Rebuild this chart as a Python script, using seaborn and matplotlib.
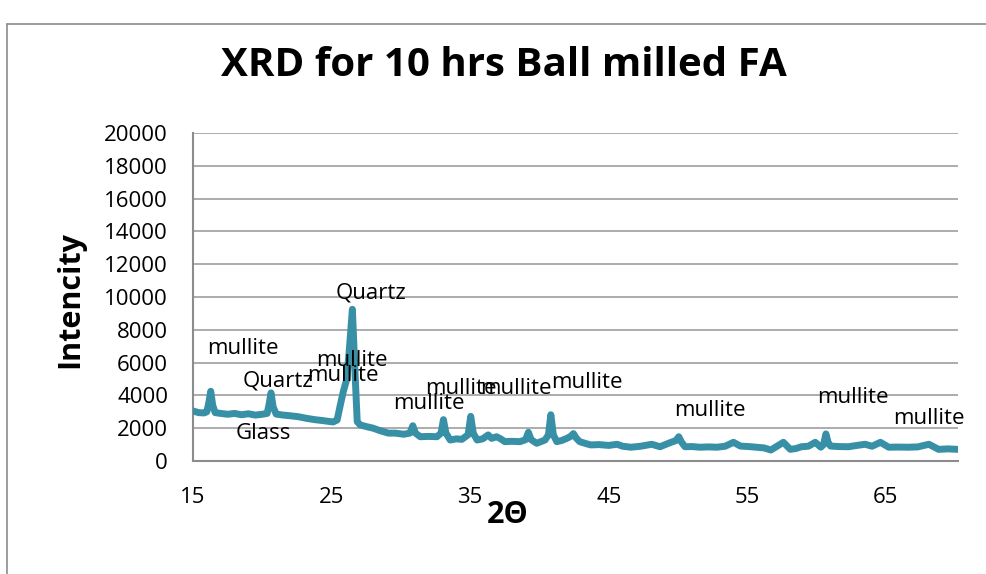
import matplotlib
matplotlib.use("Agg")
import matplotlib.pyplot as plt
import seaborn as sns
import pandas as pd
from matplotlib.lines import Line2D

# ---- data ----
two_theta = [15.0, 15.4, 15.8, 16.0, 16.15, 16.28, 16.42, 16.6, 17.0, 17.5, 18.0, 18.5, 19.0, 19.5,
             20.0, 20.35, 20.5, 20.63, 20.78, 21.0, 21.5, 22.0, 22.6, 23.2, 23.8, 24.4, 25.1,
             25.4, 25.6, 25.85, 26.1, 26.3, 26.5, 26.7, 26.85, 27.06, 27.5, 28.0, 28.5, 29.1,
             29.6, 30.2, 30.65, 30.86, 31.05, 31.4, 32.0, 32.6, 32.9, 33.07, 33.25, 33.56, 34.0,
             34.4, 34.85, 35.04, 35.22, 35.5, 35.9, 36.3, 36.55, 36.9, 37.2, 37.5, 38.0, 38.6,
             39.0, 39.2, 39.4, 39.8, 40.4, 40.65, 40.82, 41.0, 41.25, 41.6, 41.97, 42.25, 42.45,
             42.65, 42.9, 43.4, 43.7, 44.3, 45.0, 45.6, 46.0, 46.6, 47.3, 48.1, 48.7, 49.4, 49.85,
             50.05, 50.25, 50.5, 51.0, 51.6, 52.2, 52.8, 53.4, 54.0, 54.5, 55.1, 55.7, 56.2, 56.7,
             57.3, 57.6, 58.1, 58.5, 58.9, 59.4, 59.9, 60.3, 60.5, 60.67, 60.82, 61.0, 61.6, 62.3,
             62.9, 63.5, 64.0, 64.6, 65.2, 65.9, 66.6, 67.3, 68.1, 68.8, 69.5, 70.2]
intensity = [3050, 2950, 2930, 3000, 3600, 4250, 3400, 2950, 2900, 2850, 2900, 2820, 2880, 2800,
             2850, 2900, 3500, 4150, 3300, 2860, 2800, 2760, 2700, 2600, 2520, 2460, 2380,
             2500, 3300, 4250, 5000, 7000, 9250, 5200, 2400, 2200, 2100, 2000, 1850, 1700,
             1700, 1630, 1700, 2150, 1700, 1480, 1500, 1480, 1700, 2520, 1700, 1280, 1350,
             1320, 1600, 2720, 1700, 1280, 1350, 1590, 1380, 1480, 1350, 1180, 1200, 1180,
             1300, 1750, 1300, 1080, 1280, 1600, 2820, 1600, 1180, 1250, 1380, 1500, 1670,
             1400, 1180, 1050, 980, 1000, 950, 1020, 900, 840, 900, 1020, 870, 1110, 1250,
             1480, 1150, 870, 880, 840, 860, 840, 900, 1140, 910, 880, 840, 800, 670,
             980, 1140, 710, 760, 870, 900, 1140, 840, 1000, 1650, 1150, 910, 880, 870,
             950, 1020, 900, 1140, 840, 850, 840, 860, 1020, 710, 740, 710]

labels = ["mullite", "Quartz", "mullite", "mullite", "Glass", "Quartz", "mullite", "mullite",
          "mullite", "mullite", "mullite", "mullite", "mullite"]
label_x = [18.6, 21.1, 26.5, 25.8, 20.05, 27.85, 32.0, 34.35, 38.3, 43.4, 52.3, 62.6, 68.1]
label_y = [6890, 4880, 6100, 5240, 1650, 10240, 3480, 4450, 4450, 4760, 3050, 3900, 2620]

x_ticks = [15, 25, 35, 45, 55, 65]
y_ticks = [0, 2000, 4000, 6000, 8000, 10000, 12000, 14000, 16000, 18000, 20000]

title = "XRD for 10 hrs Ball milled FA"
x_label = "2Θ"
y_label = "Intencity"

# ---- plot ----
sns.set_theme(style="white")
plt.rcParams["font.family"] = ["Open Sans", "DejaVu Sans"]

W, H = 987, 574
fig = plt.figure(figsize=(W / 100, H / 100), dpi=100)
ax = fig.add_axes([193 / W, 1 - 461 / H, (958 - 193) / W, (461 - 133) / H])

df = pd.DataFrame({"two_theta": two_theta, "intensity": intensity})
sns.lineplot(data=df, x="two_theta", y="intensity", ax=ax, color="#3890A6",
             linewidth=5.0, solid_joinstyle="round", solid_capstyle="round", zorder=3)

ax.set_xlim(15, 70.2)
ax.set_ylim(0, 20000)
ax.set_xticks(x_ticks)
ax.set_yticks(y_ticks)
ax.set_xticklabels([str(t) for t in x_ticks])
ax.set_yticklabels([str(t) for t in y_ticks])
ax.tick_params(axis="both", length=0, labelsize=16, colors="black")
ax.tick_params(axis="y", pad=18)
ax.tick_params(axis="x", pad=19)
ax.yaxis.grid(True, color="#A6A6A6", linewidth=1.3)
ax.xaxis.grid(False)
for side in ["top", "right"]:
    ax.spines[side].set_visible(False)
for side in ["left", "bottom"]:
    ax.spines[side].set_color("#8C8C8C")
    ax.spines[side].set_linewidth(1.5)
ax.set_xlabel("")
ax.set_ylabel("")

for t, x, y in zip(labels, label_x, label_y):
    ax.text(x, y, t, ha="center", va="center", fontsize=16, color="black", zorder=4)

fig.text(504 / W, 1 - 66 / H, title, ha="center", va="center", fontsize=29,
         fontweight="bold", color="black")
fig.text(508 / W, 1 - 515 / H, x_label, ha="center", va="center", fontsize=22,
         fontweight="bold", color="black")
fig.text(70 / W, 1 - 300 / H, y_label, ha="center", va="center", fontsize=22,
         fontweight="bold", color="black", rotation=90)

# outer chart frame
fig.add_artist(Line2D([7 / W, 7 / W], [0, 1 - 24 / H], color="#8C8C8C", linewidth=1.2))
fig.add_artist(Line2D([7 / W, 1], [1 - 24 / H, 1 - 24 / H], color="#8C8C8C", linewidth=1.2))

fig.savefig("out.png", dpi=100)
